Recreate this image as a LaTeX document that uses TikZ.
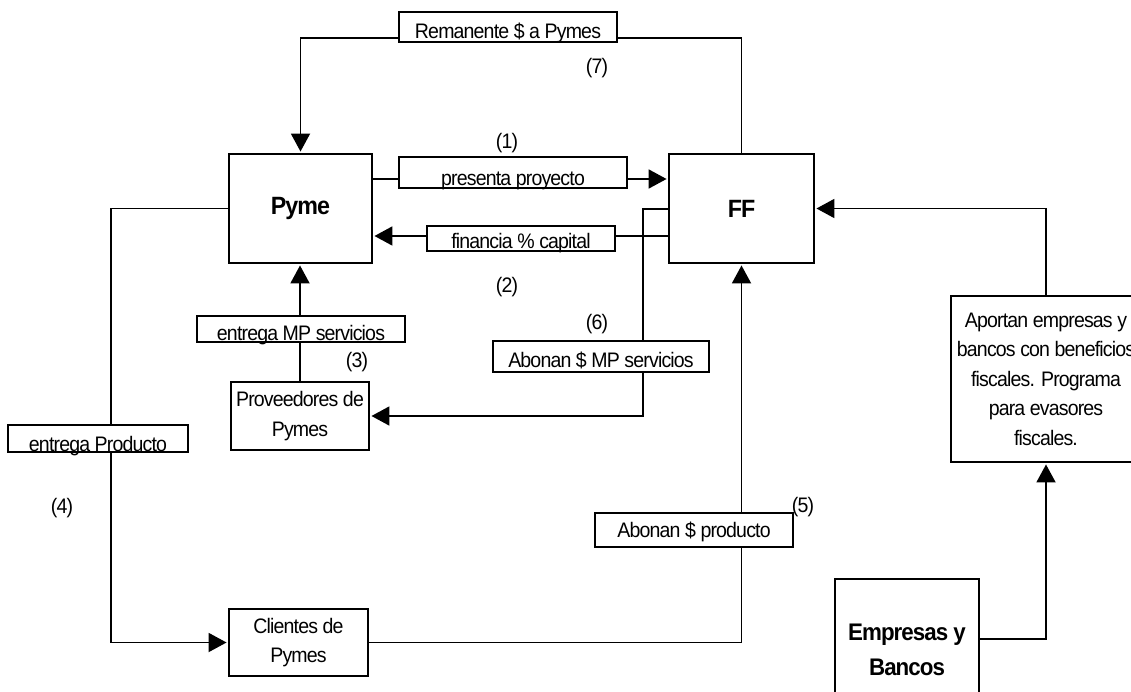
\documentclass[tikz,border=0pt]{standalone}
\usepackage{fontspec}
\setmainfont{Liberation Sans}[LetterSpace=-4, FakeStretch=0.93]
\usetikzlibrary{arrows.meta}
\tikzset{
  ln/.style={line width=1.9pt},
  arr/.style={line width=1.9pt, -{Triangle[length=18pt,width=19pt]}, shorten >=1.5pt},
  mainbox/.style={draw, fill=white, line width=1.9pt, inner sep=0pt, align=center,
    font=\fontsize{21}{29.5}\selectfont},
  boldbox/.style={mainbox, font=\fontsize{25}{35}\selectfont\bfseries},
  lbox/.style={draw, fill=white, line width=1.9pt, inner sep=0pt, anchor=base,
    font=\fontsize{21}{24}\selectfont},
  num/.style={inner sep=0pt, font=\fontsize{21}{24}\selectfont}
}
\begin{document}
\begin{tikzpicture}[x=1pt,y=-1pt]
\useasboundingbox (0,0) rectangle (1131,692);
\clip (0,0) rectangle (1131,692);
% main boxes
\node[boldbox, minimum width=143, minimum height=109] (pyme) at (300.5,208.5) {Pyme};
\node[boldbox, minimum width=145, minimum height=109] (ff) at (741.5,208.5) {FF};
\node[mainbox, minimum width=138, minimum height=68] (prov) at (300,416) {Proveedores de\\Pymes};
\node[mainbox, minimum width=139, minimum height=67] (cli) at (298.5,642.5) {Clientes de\\Pymes};
\node[boldbox, minimum width=144, minimum height=142, font=\fontsize{24}{35}\selectfont\bfseries] (emp) at (907,650) {Empresas y\\Bancos};
\node[mainbox, minimum width=190, minimum height=166] (apor) at (1046,379)
  {Aportan empresas y\\bancos con beneficios\\fiscales. Programa\\para evasores\\fiscales.};
% helper coordinates
\coordinate (ytop) at (0,38);
\coordinate (ypres) at (0,179);
\coordinate (yfin) at (0,236);
\coordinate (yff) at (0,209);
\coordinate (xv) at (643,0);
\coordinate (xl) at (111,0);
\coordinate (yemp) at (0,639);
% connectors
\draw[arr] (ff.north) |- (ytop -| pyme.north) -- (pyme.north);
\draw[arr] (pyme.east |- ypres) -- (ff.west |- ypres);
\draw[arr] (ff.west |- yfin) -- (pyme.east |- yfin);
\draw[arr] (ff.west |- yff) -- (xv |- yff) -- (xv |- prov.east) -- (prov.east);
\draw[arr] (prov.north) -- (prov.north |- pyme.south);
\draw[arr] (pyme.west) -- (xl |- pyme.west) -- (xl |- cli.west) -- (cli.west);
\draw[arr] (cli.east) -| (ff.south);
\draw[arr] (emp.east |- yemp) -| (apor.south);
\draw[arr] (apor.north) |- (ff.east);
% label boxes
\node[lbox, minimum width=218, text height=27, text depth=3] (rem) at (508,39) {Remanente \$ a Pymes};
\node[lbox, minimum width=228, text height=29, text depth=2] (pres) at (513,186) {presenta proyecto};
\node[lbox, minimum width=188, text height=23, text depth=2] (fin) at (521,249) {financia \% capital};
\node[lbox, minimum width=208, text height=24, text depth=2] (entmp) at (301,340) {entrega MP servicios};
\node[lbox, minimum width=216, text height=26, text depth=5] (abmp) at (601,367) {Abonan \$ MP servicios};
\node[lbox, minimum width=180, text height=26, text depth=1] (entp) at (98,451) {entrega Producto};
\node[lbox, minimum width=198, text height=24, text depth=10] (abp) at (694,537) {Abonan \$ producto};
% numbers
\node[num] (n1) at (507,143) {(1)};
\node[num] (n2) at (507,287) {(2)};
\node[num] (n3) at (357,362) {(3)};
\node[num] (n4) at (62,508) {(4)};
\node[num] (n5) at (803,507) {(5)};
\node[num] (n6) at (597,324) {(6)};
\node[num] (n7) at (597,68) {(7)};
\end{tikzpicture}
\end{document}
